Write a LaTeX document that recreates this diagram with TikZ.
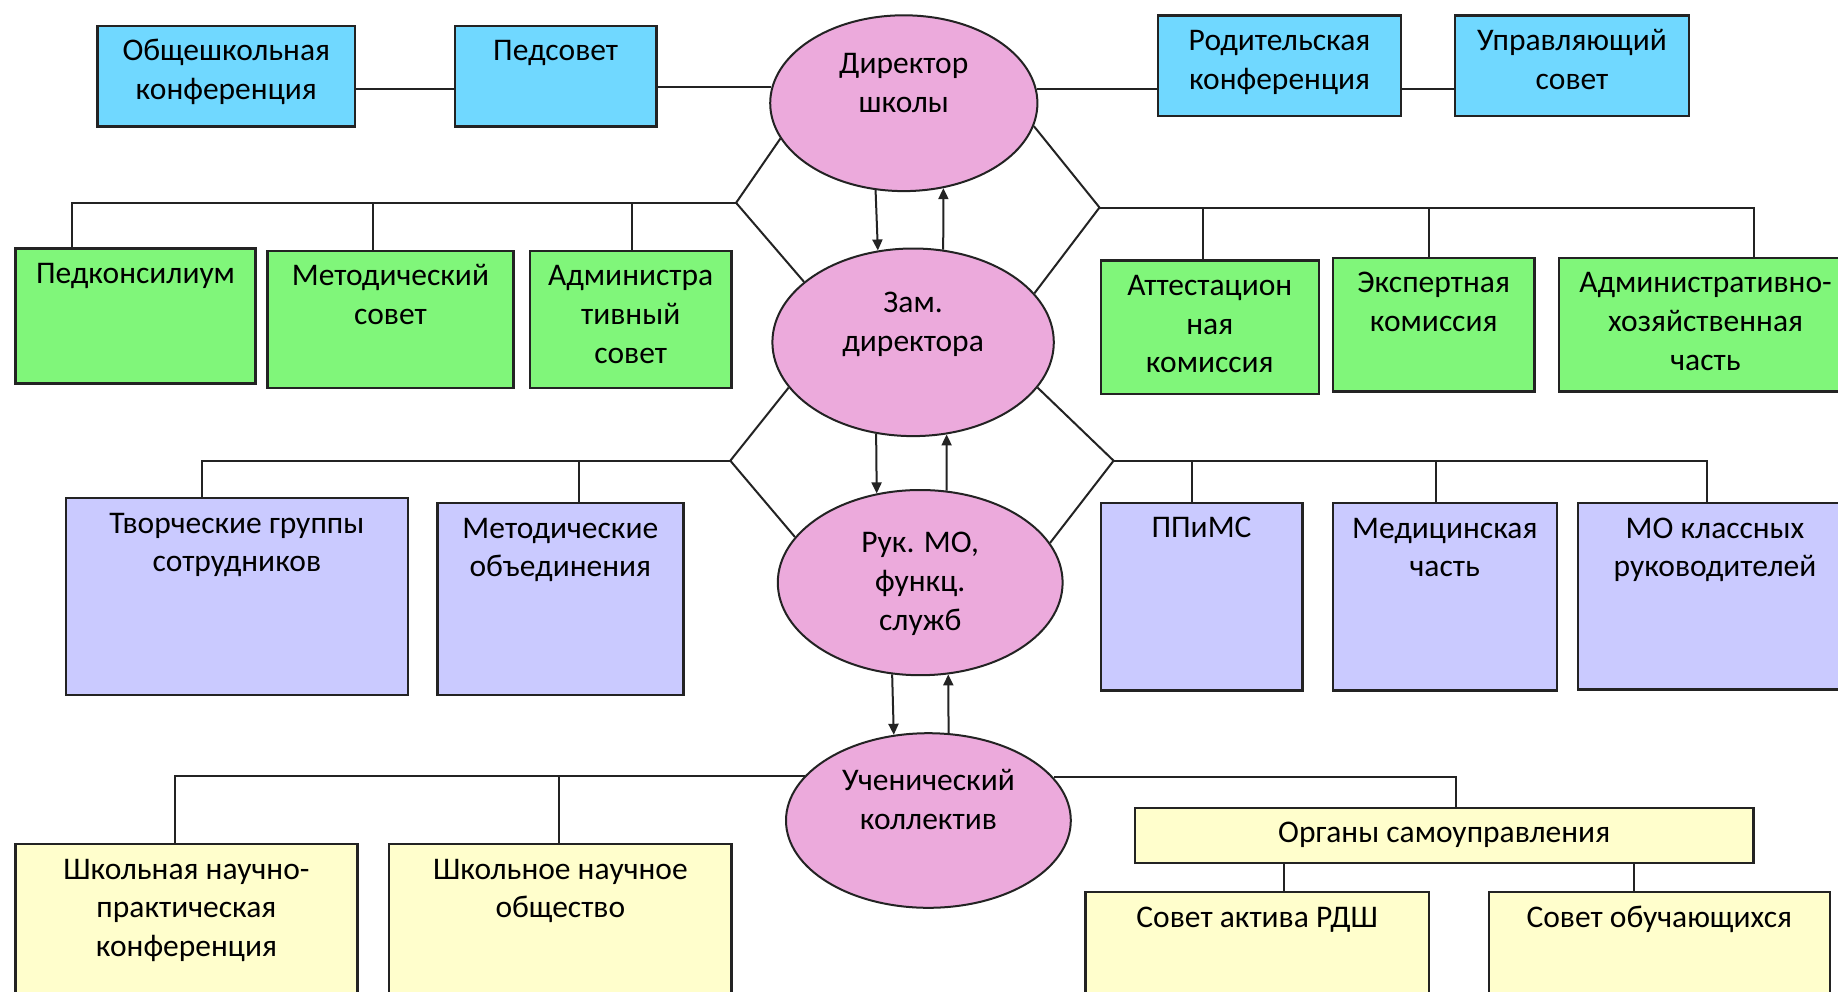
\documentclass[tikz,border=0pt]{standalone}
\usepackage{fontspec}
\setmainfont{Carlito}
\usetikzlibrary{shapes.geometric,arrows.meta}
\definecolor{cblue}{RGB}{112,216,255}
\definecolor{cgreen}{RGB}{128,246,122}
\definecolor{clav}{RGB}{202,202,255}
\definecolor{cyel}{RGB}{255,254,204}
\definecolor{cpink}{RGB}{236,170,220}
\definecolor{cline}{RGB}{35,35,35}
\begin{document}
\begin{tikzpicture}[x=1pt,y=-1pt,
  bx/.style={draw=cline,line width=2.4pt,rectangle,inner sep=0pt,anchor=north west},
  ell/.style={draw=cline,line width=2pt,ellipse,fill=cpink,inner sep=0pt},
  txt/.style={font=\fontsize{31.5}{38.7}\selectfont,align=center,inner sep=0pt,anchor=north,text=black},
  conn/.style={draw=cline,line width=2pt},
  arr/.style={conn,-{Triangle[length=11pt,width=10pt]}}]
\useasboundingbox (0,0) rectangle (1838,991);
\clip (0,0) rectangle (1838,991);
\fill[white] (0,0) rectangle (1838,991);

% Row 1
\node[bx,fill=cblue,minimum width=257.9pt,minimum height=100.8pt] (obsh) at (96.1,24.6) {};
\node[bx,fill=cblue,minimum width=201.7pt,minimum height=100.8pt] (ped) at (453.6,24.6) {};
\node[ell,minimum width=267.2pt,minimum height=175.8pt] (dir) at (903.8,103.2) {};
\node[bx,fill=cblue,minimum width=242.6pt,minimum height=100.8pt] (rod) at (1157.0,14.1) {};
\node[bx,fill=cblue,minimum width=234.5pt,minimum height=100.8pt] (upr) at (1453.5,14.1) {};
\node[txt] (obsht) at ([yshift=-9pt]obsh.north) {\strut Общешкольная\\конференция};
\node[txt] (pedt) at ([yshift=-9pt]ped.north) {\strut Педсовет};
\node[txt] (dirt) at ([yshift=57pt]dir.center) {\strut Директор\\школы};
\node[txt] (rodt) at ([yshift=-9pt]rod.north) {\strut Родительская\\конференция};
\node[txt] (uprt) at ([yshift=-9pt]upr.north) {\strut Управляющий\\совет};

% Row 2
\node[bx,fill=cgreen,minimum width=240.3pt,minimum height=134.8pt] (pedk) at (14.1,247.3) {};
\node[bx,fill=cgreen,minimum width=246.2pt,minimum height=137.1pt] (metsov) at (266.1,249.7) {};
\node[bx,fill=cgreen,minimum width=201.6pt,minimum height=137.1pt] (adm) at (528.7,249.7) {};
\node[ell,minimum width=281.4pt,minimum height=187.6pt] (zam) at (913.1,342.3) {};
\node[bx,fill=cgreen,minimum width=218.1pt,minimum height=133.6pt] (att) at (1099.5,259.1) {};
\node[bx,fill=cgreen,minimum width=201.7pt,minimum height=133.6pt] (eksp) at (1331.6,256.7) {};
\node[bx,fill=cgreen,minimum width=293pt,minimum height=133.6pt] (ahch) at (1557.8,256.7) {};
\node[txt] (pedkt) at ([yshift=-9pt]pedk.north) {\strut Педконсилиум};
\node[txt] (metsovt) at ([yshift=-9pt]metsov.north) {\strut Методический\\совет};
\node[txt] (admt) at ([yshift=-9pt]adm.north) {\strut Администра\\тивный\\совет};
\node[txt] (zamt) at ([yshift=57pt]zam.center) {\strut Зам.\\директора};
\node[txt] (attt) at ([yshift=-9pt]att.north) {\strut Аттестацион\\ная\\комиссия};
\node[txt] (ekspt) at ([yshift=-9pt]eksp.north) {\strut Экспертная\\комиссия};
\node[txt] (ahcht) at ([yshift=-9pt]ahch.north) {\strut Административно-\\хозяйственная\\часть};

% Row 3
\node[bx,fill=clav,minimum width=342.3pt,minimum height=196.9pt] (tvor) at (64.5,497.0) {};
\node[bx,fill=clav,minimum width=246.1pt,minimum height=192.2pt] (metob) at (436.1,501.7) {};
\node[ell,minimum width=284.8pt,minimum height=185.2pt] (ruk) at (920.2,582.6) {};
\node[bx,fill=clav,minimum width=201.6pt,minimum height=187.6pt] (ppims) at (1099.5,501.7) {};
\node[bx,fill=clav,minimum width=223.9pt,minimum height=187.6pt] (med) at (1331.6,501.7) {};
\node[bx,fill=clav,minimum width=274.4pt,minimum height=186.4pt] (mokl) at (1576.6,501.7) {};
\node[txt] (tvort) at ([yshift=-9pt]tvor.north) {\strut Творческие группы\\сотрудников};
\node[txt] (metobt) at ([yshift=-9pt]metob.north) {\strut Методические\\объединения};
\node[txt] (rukt) at ([yshift=57pt]ruk.center) {\strut Рук. МО,\\функц.\\служб};
\node[txt] (ppimst) at ([yshift=-9pt]ppims.north) {\strut ППиМС};
\node[txt] (medt) at ([yshift=-9pt]med.north) {\strut Медицинская\\часть};
\node[txt] (moklt) at ([yshift=-9pt]mokl.north) {\strut МО классных\\руководителей};

% Row 4
\node[ell,minimum width=284.8pt,minimum height=174.6pt] (uch) at (928.4,820.5) {};
\node[bx,fill=cyel,minimum width=342.2pt,minimum height=170pt] (shnpk) at (14.1,842.8) {};
\node[bx,fill=cyel,minimum width=342.3pt,minimum height=170pt] (shno) at (388.0,842.8) {};
\node[bx,fill=cyel,minimum width=618.9pt,minimum height=55.1pt] (org) at (1133.5,806.5) {};
\node[bx,fill=cyel,minimum width=343.4pt,minimum height=130pt] (sovakt) at (1084.3,890.9) {};
\node[bx,fill=cyel,minimum width=341.1pt,minimum height=130pt] (sovob) at (1487.5,890.9) {};
\node[txt] (ucht) at ([yshift=57pt]uch.center) {\strut Ученический\\коллектив};
\node[txt] (shnpkt) at ([yshift=-9pt]shnpk.north) {\strut Школьная научно-\\практическая\\конференция};
\node[txt] (shnot) at ([yshift=-9pt]shno.north) {\strut Школьное научное\\общество};
\node[txt,anchor=center] (orgt) at (org.center) {Органы самоуправления};
\node[txt] (sovaktt) at ([yshift=-9pt]sovakt.north) {\strut Совет актива РДШ};
\node[txt] (sovobt) at ([yshift=-9pt]sovob.north) {\strut Совет обучающихся};

% Row 1 connectors
\draw[conn] ([yshift=-12.9pt]obsh.east) -- ([yshift=-12.9pt]ped.west);
\draw[conn] (dir.173.4 -| ped.east) -- (dir.173.4);
\draw[conn] (dir.6.6) -- (dir.6.6 -| rod.west);
\draw[conn] ([yshift=-23.4pt]rod.east) -- ([yshift=-23.4pt]upr.west);

% Row 2 connectors
\coordinate (jl1) at (736.1,202.8);
\coordinate (jr1) at (1099.5,207.5);
\draw[conn] (dir.196.5) -- (jl1) -- (zam.151.5);
\draw[conn] (jl1) -| ([xshift=-63.95pt]pedk.north);
\draw[conn] ([xshift=-17.6pt]metsov.north) -- ([xshift=-17.6pt]metsov.north |- jl1);
\draw[conn] ([xshift=1.1pt]adm.north) -- ([xshift=1.1pt]adm.north |- jl1);
\draw[conn] (dir.-10) -- (jr1) -- (zam.22.4);
\draw[conn] (jr1) -| ([xshift=48.1pt]ahch.north);
\draw[conn] ([xshift=-7.05pt]att.north) -- ([xshift=-7.05pt]att.north |- jr1);
\draw[conn] ([xshift=-4.75pt]eksp.north) -- ([xshift=-4.75pt]eksp.north |- jr1);
\draw[arr] (dir.252.6) -- (zam.111.8);
\draw[arr] (zam.72.3) -- (dir.-65.3);

% Row 3 connectors
\coordinate (jl2) at (730.3,460.7);
\coordinate (jr2) at (1113.6,460.7);
\draw[conn] (zam.200.2) -- (jl2) -- (ruk.160);
\draw[conn] (jl2) -| ([xshift=-35.25pt]tvor.north);
\draw[conn] ([xshift=18.75pt]metob.north) -- ([xshift=18.75pt]metob.north |- jl2);
\draw[conn] (zam.-20) -- (jr2) -- (ruk.17.8);
\draw[conn] (jr2) -| ([xshift=-8.2pt]mokl.north);
\draw[conn] ([xshift=-9.3pt]ppims.north) -- ([xshift=-9.3pt]ppims.north |- jr2);
\draw[conn] ([xshift=-8.75pt]med.north) -- ([xshift=-8.75pt]med.north |- jr2);
\draw[arr] (zam.248.2) -- (ruk.116.2);
\draw[arr] (ruk.74.2) -- (zam.-70.2);

% Row 4 connectors
\draw[conn] (uch.160) -| ([xshift=-11.7pt]shnpk.north);
\draw[conn] ([xshift=-1.15pt]shno.north) -- ([xshift=-1.15pt]shno.north |- uch.160);
\draw[conn] (uch.19) -| ([xshift=11.75pt]org.north);
\draw[conn] ([xshift=26.4pt]sovakt.north) -- ([xshift=26.4pt]sovakt.north |- org.south);
\draw[conn] ([xshift=-25.15pt]sovob.north) -- ([xshift=-25.15pt]sovob.north |- org.south);
\draw[arr] (ruk.253.5) -- (uch.112.6);
\draw[arr] (uch.77.8) -- (ruk.-73.5);
\end{tikzpicture}
\end{document}
